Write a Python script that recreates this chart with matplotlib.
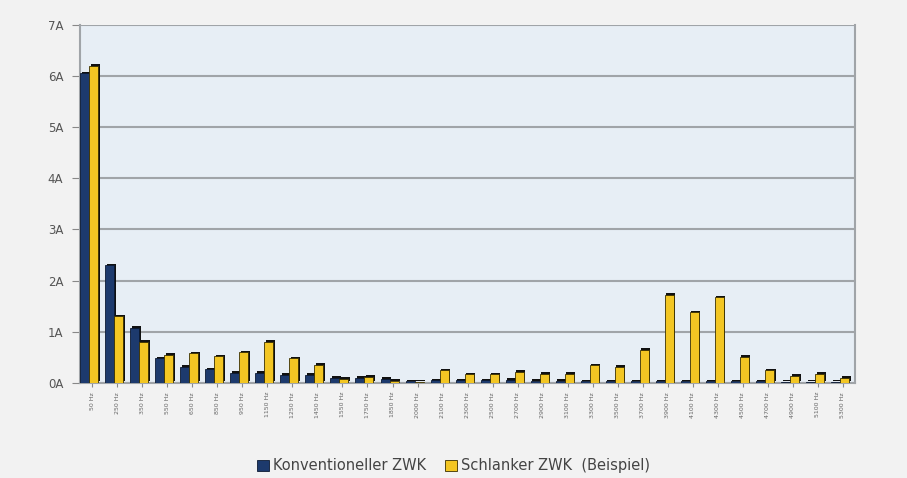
import matplotlib.pyplot as plt
import numpy as np

freqs = [50, 250, 350, 550, 650, 850, 950, 1150, 1250, 1450, 1550, 1750, 1850,
         2000, 2100, 2300, 2500, 2700, 2900, 3100, 3300, 3500, 3700, 3900,
         4100, 4300, 4500, 4700, 4900, 5100, 5300]
labels = ['%d Hz' % f for f in freqs]

konventionell = [6.05, 2.3, 1.08, 0.48, 0.32, 0.27, 0.2, 0.2, 0.16, 0.16, 0.1, 0.1, 0.08,
                 0.03, 0.05, 0.05, 0.05, 0.06, 0.04, 0.04, 0.03, 0.03, 0.03, 0.03,
                 0.03, 0.03, 0.03, 0.03, 0.02, 0.02, 0.02]
schlank = [6.2, 1.3, 0.8, 0.55, 0.58, 0.52, 0.6, 0.8, 0.48, 0.35, 0.08, 0.12, 0.04,
           0.02, 0.25, 0.17, 0.17, 0.22, 0.18, 0.18, 0.34, 0.32, 0.65, 1.72,
           1.38, 1.67, 0.51, 0.25, 0.14, 0.18, 0.1]

fig = plt.figure(figsize=(9.07, 4.78), dpi=100)
fig.patch.set_facecolor('#f2f2f2')
ax = fig.add_axes([0.088, 0.199, 0.855, 0.749])
ax.set_facecolor('#e7eef5')

x = np.arange(len(labels))
w = 0.36
blue = '#1d3a6d'
yellow = '#f3c623'

# dark "3d" side of the bars
ax.bar(x - w / 2 - 0.05, konventionell, w, bottom=0.03, color='#111111', zorder=2)
ax.bar(x + w / 2 - 0.05, schlank, w, bottom=0.03, color='#111111', zorder=2)
ax.bar(x - w / 2 - 0.12, konventionell, w, color=blue, edgecolor='#0c1a33', linewidth=0.6,
       zorder=3, label='Konventioneller ZWK')
ax.bar(x + w / 2 - 0.12, schlank, w, color=yellow, edgecolor='#3a3000', linewidth=0.6,
       zorder=3, label='Schlanker ZWK  (Beispiel)')

ax.set_xlim(-0.5, len(labels) - 0.5)
ax.set_ylim(0, 7)
ax.set_yticks(range(8))
ax.set_yticklabels(['%dA' % i for i in range(8)], color='#555555', fontsize=8.5)
ax.yaxis.grid(True, color='#a0a4a8', linewidth=1.5, zorder=0)
ax.set_axisbelow(True)
ax.set_xticks(x)
ax.set_xticklabels(labels, rotation=90, fontsize=4.5, color='#666666')
ax.tick_params(axis='x', length=3, color='#888888')
ax.tick_params(axis='y', length=6, pad=6, color='#888888')

ax.spines['top'].set_visible(False)
for s in ['left', 'right', 'bottom']:
    ax.spines[s].set_color('#a0a4a8')
    ax.spines[s].set_linewidth(1.5)

fig.legend(loc='lower center', bbox_to_anchor=(0.5, -0.018), ncol=2, frameon=False,
           fontsize=10.5, handlelength=0.8, handleheight=0.8, handletextpad=0.3,
           columnspacing=1.3, labelcolor='#444444')

fig.savefig('out.png', dpi=100, facecolor=fig.get_facecolor())
